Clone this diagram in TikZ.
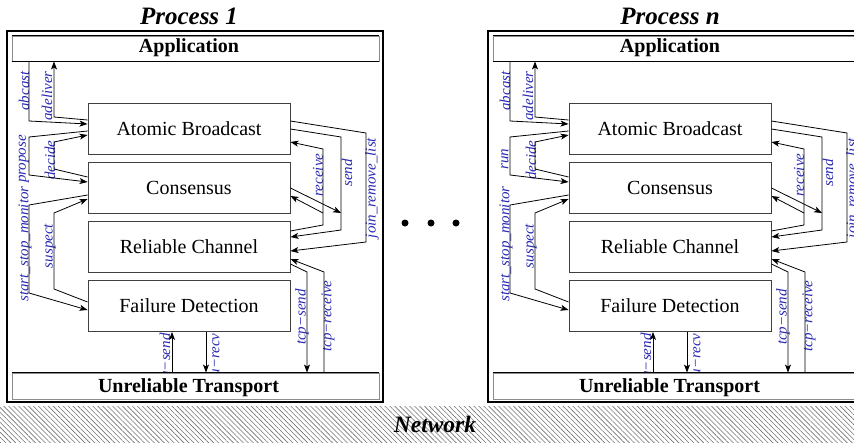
\documentclass[tikz,border=0pt]{standalone}
\usepackage{fontspec}
\setmainfont{Liberation Serif}
\usetikzlibrary{arrows.meta,patterns.meta}
\definecolor{lblblue}{RGB}{40,40,180}
\tikzset{
  layerbox/.style={draw=black!75, line width=0.9pt, fill=white,
    minimum width=202pt, minimum height=51pt, inner sep=0pt,
    font=\fontsize{20pt}{24pt}\selectfont},
  barbox/.style={draw=black!45, line width=0.9pt, fill=white,
    minimum width=367pt, inner sep=0pt},
  bartext/.style={font=\fontsize{20pt}{24pt}\selectfont\bfseries, inner sep=0pt},
  proctitle/.style={font=\fontsize{25pt}{30pt}\selectfont\bfseries\itshape, inner sep=0pt},
  procframe/.style={draw=black, line width=2.5pt},
  arr/.style={line width=0.8pt, -{Stealth[length=8pt,width=6pt,inset=2pt]}},
  lbl/.style={rotate=90, text=lblblue, inner sep=0pt,
    font=\fontsize{15pt}{18pt}\selectfont\itshape},
}
% One process: #1 horizontal offset, #2 name prefix, #3 label of the
% consensus call, #4 title
\newcommand\drawprocess[4]{%
\begin{scope}[xshift=#1pt]
  \node[proctitle] (#2title) at (189,16) {#4};
  \draw[procframe] (7,31) rectangle (383,402);
  % call labels
  \node[lbl] (#2labA) at (24,91) {abcast};
  \node[lbl] (#2labB) at (47,96) {adeliver};
  \node[lbl] (#2labC) at (24,159) {#3};
  \node[lbl] (#2labD) at (50,160) {decide};
  \node[lbl] (#2labE) at (25,244) {start\_stop\_monitor};
  \node[lbl] (#2labF) at (50,246) {suspect};
  \node[lbl] (#2labG) at (318,175) {receive};
  \node[lbl] (#2labH) at (347,173) {send};
  \node[lbl] (#2labI) at (372,188) {join\_remove\_list};
  \node[lbl] (#2labJ) at (302,317) {tcp−send};
  \node[lbl] (#2labK) at (328,316) {tcp−receive};
  \node[lbl] (#2labL) at (165,356) {u−send};
  \node[lbl] (#2labM) at (216,355) {u−recv};
  % layers
  \node[barbox, minimum height=25pt] (#2app) at (195.5,48.5) {};
  \draw[line width=0.9pt] (#2app.north west) -- (#2app.north east)
    (#2app.south west) -- (#2app.south east);
  \node[bartext] (#2appt) at (189,48) {Application};
  \node[barbox, minimum height=26pt] (#2ut) at (195.5,386) {};
  \draw[line width=0.9pt] (#2ut.north west) -- (#2ut.north east);
  \node[bartext] (#2utt) at (188.5,388) {Unreliable Transport};
  \node[layerbox] (#2ab) at (189,128.5) {Atomic Broadcast};
  \node[layerbox] (#2cons) at (189,188) {Consensus};
  \node[layerbox] (#2rc) at (189,247) {Reliable Channel};
  \node[layerbox] (#2fd) at (189,306) {Failure Detection};
  % left-hand calls
  \draw[arr] (29,0 |- #2app.south) -- (29,121) -- ([yshift=4.5pt]#2ab.west);
  \draw[arr] ([yshift=8.5pt]#2ab.west) -- (54,117) -- (54,0 |- #2app.south);
  \draw[arr] ([yshift=-2.5pt]#2ab.west) -- (29,137) -- (29,175) -- ([yshift=6pt]#2cons.west);
  \draw[arr] ([yshift=11pt]#2cons.west) -- (54,169) -- (54,142) -- ([yshift=-6.5pt]#2ab.west);
  \draw[arr] ([yshift=-7pt]#2cons.west) -- (29,205) -- (29,293) -- ([yshift=-4pt]#2fd.west);
  \draw[arr] ([yshift=4pt]#2fd.west) -- (54,289) -- (54,213) -- ([yshift=-11pt]#2cons.west);
  % right-hand calls
  \coordinate (#2sendj) at (341,213);
  \coordinate (#2recvj) at (323,213);
  \draw[arr] ([yshift=7.5pt]#2ab.east) -- (366,133) -- (366,242) -- ([yshift=-4pt]#2rc.east);
  \draw[arr] ([yshift=-0.5pt]#2ab.east) -- (341,137) -- (341,230) -- ([yshift=10pt]#2rc.east);
  \draw[arr] (#2cons.east) -- (#2sendj);
  \draw[arr] ([yshift=16pt]#2rc.east) -- (323,225) -- (323,149) -- ([yshift=-13.5pt]#2ab.east);
  \draw[arr] (#2recvj) -- ([yshift=-8pt]#2cons.east);
  \draw[arr] ([yshift=-17pt]#2rc.east) -- (307,272) -- (307,0 |- #2ut.north);
  \draw[arr] (324,0 |- #2ut.north) -- (324,272) -- ([yshift=-12pt]#2rc.east);
  % transport calls
  \draw[arr] (172,0 |- #2ut.north) -- (172,0 |- #2fd.south);
  \draw[arr] (206,0 |- #2fd.south) -- (206,0 |- #2ut.north);
\end{scope}}

\begin{document}
\begin{tikzpicture}[x=1pt,y=-1pt]
  \useasboundingbox (0,0) rectangle (854,442);
  \clip (0,0) rectangle (854,442);
  \drawprocess{0}{p}{propose}{Process 1}
  \drawprocess{481}{q}{run}{Process n}
  % dots between the processes
  \fill (405,223) circle (3.5pt) (431,223) circle (3.5pt) (456,223) circle (3.5pt);
  % network
  \fill[pattern={Lines[angle=-45,distance=3.5pt,line width=0.6pt]}, pattern color=black!55]
    (0,406) rectangle (854,442);
  \node[font=\fontsize{23.5pt}{28pt}\selectfont\bfseries\itshape, inner sep=0pt] (net) at (435,424) {Network};
\end{tikzpicture}
\end{document}
